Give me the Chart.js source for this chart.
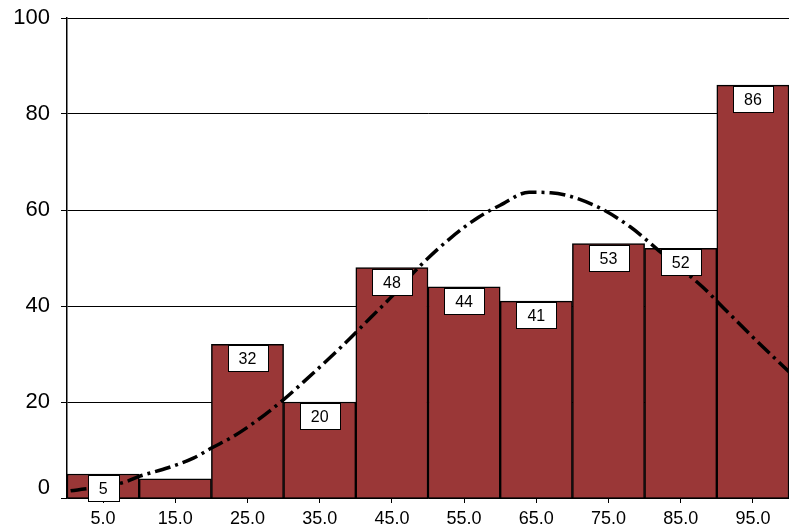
<!DOCTYPE html>
<html><head><meta charset="utf-8">
<script src="https://cdn.jsdelivr.net/npm/chart.js@4"></script>
<style>html,body{margin:0;padding:0;background:#fff}</style>
</head><body>
<canvas id="c" width="789" height="529" style="width:789px;height:529px;display:block"></canvas>
<script>
const categories = ['5.0','15.0','25.0','35.0','45.0','55.0','65.0','75.0','85.0','95.0'];
const frequencies = [5,4,32,20,48,44,41,53,52,86];
const curveX = [0.5, 8, 10, 14, 17.5, 20, 23, 26, 30, 33, 38, 42, 45, 49, 53, 57, 60, 64, 67, 73, 78, 82, 88, 91, 95, 100];
const curveY = [1.5, 3.3, 4.5, 6.3, 8.3, 10.4, 12.8, 15.8, 20.5, 24.5, 31.5, 37.5, 42, 48.5, 54, 58.5, 61, 63.7, 63.6, 61, 56.5, 51.5, 44, 39.5, 33.5, 26.3];
const yTicks = [0,20,40,60,80,100];

const FONT = '"Liberation Sans", Arial, sans-serif';

const labelPlugin = {
  id: 'barLabels',
  afterDraw(chart) {
    const ctx = chart.ctx;
    const meta = chart.getDatasetMeta(0);
    ctx.save();
    ctx.font = '16px ' + FONT;
    meta.data.forEach((bar, i) => {
      const v = frequencies[i];
      if (v < 5) return;
      const txt = String(v);
      const w = Math.round(ctx.measureText(txt).width + 22), h = 26;
      const x = Math.round(bar.x - w / 2) + 0.5;
      const y = Math.round(bar.y + 1) + 0.5;
      ctx.fillStyle = '#fff';
      ctx.fillRect(x, y, w, h);
      ctx.strokeStyle = '#000';
      ctx.lineWidth = 1;
      ctx.strokeRect(x, y, w, h);
      ctx.fillStyle = '#000';
      ctx.textAlign = 'center';
      ctx.textBaseline = 'middle';
      ctx.fillText(txt, bar.x, y + h / 2 + 1);
    });
    // zero label of the y axis sits a little above its line in the reference
    const ys = chart.scales.y;
    ctx.font = '22px ' + FONT;
    ctx.textAlign = 'right';
    ctx.textBaseline = 'middle';
    ctx.fillStyle = '#000';
    ctx.fillText(String(yTicks[0]), ys.right - 6 - 11, ys.getPixelForValue(yTicks[0]) - 10);
    ctx.restore();
  }
};

new Chart(document.getElementById('c'), {
  type: 'bar',
  data: {
    labels: categories,
    datasets: [
      {
        type: 'bar',
        data: frequencies,
        backgroundColor: '#9a3737',
        borderColor: '#000',
        borderWidth: 1.5,
        barPercentage: 1,
        categoryPercentage: 1,
        grouped: false,
        xAxisID: 'x',
        order: 1
      },
      {
        type: 'line',
        data: curveX.map((x, i) => ({x: x, y: curveY[i]})),
        xAxisID: 'x2',
        borderColor: '#000',
        borderWidth: 3.5,
        borderDash: [16, 5, 3, 5],
        pointRadius: 0,
        cubicInterpolationMode: 'monotone',
        fill: false,
        order: 0
      }
    ]
  },
  options: {
    responsive: false,
    animation: false,
    plugins: { legend: { display: false }, tooltip: { enabled: false } },
    layout: { padding: { top: 18, right: 0, left: 0, bottom: 0 } },
    scales: {
      x: {
        type: 'category',
        offset: true,
        grid: { drawOnChartArea: false, drawTicks: true, tickLength: 5, color: '#000', offset: false, lineWidth: 1 },
        border: { color: '#000', width: 1.5 },
        ticks: { color: '#000', font: { family: FONT, size: 18 }, padding: 5, maxRotation: 0, autoSkip: false },
        afterFit(s) { s.height = 31; s.paddingLeft = 0; s.paddingRight = 0; }
      },
      x2: {
        type: 'linear',
        min: 0, max: 100,
        offset: false,
        grid: { offset: false },
        display: false
      },
      y: {
        min: 0, max: 100,
        afterBuildTicks(s) { s.ticks = yTicks.map(v => ({value: v})); },
        grid: { color: '#000', lineWidth: 1, tickLength: 6 },
        border: { color: '#000', width: 1.5 },
        ticks: {
          color: '#000', font: { family: FONT, size: 22 }, padding: 11,
          callback: (v) => (v === yTicks[0] ? '' : String(v))
        },
        afterFit(s) { s.width = 67; s.paddingTop = 0; s.paddingBottom = 0; }
      }
    }
  },
  plugins: [labelPlugin]
});
</script>
</body></html>
